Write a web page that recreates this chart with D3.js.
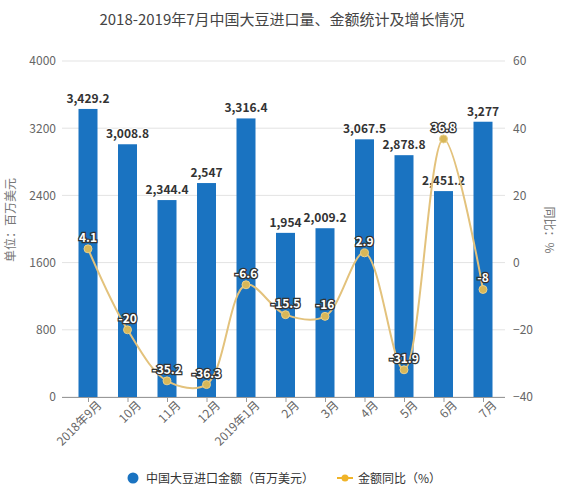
<!DOCTYPE html>
<html><head><meta charset="utf-8">
<script src="https://cdn.jsdelivr.net/npm/d3@7"></script>
<style>
body{margin:0;background:#fff;}
text{font-family:"Noto Sans CJK SC","Microsoft YaHei",sans-serif;}
</style></head>
<body><svg id="c" width="564" height="498"></svg>
<script>
const categories = ["2018年9月","10月","11月","12月","2019年1月","2月","3月","4月","5月","6月","7月"];
const amounts = [3429.2,3008.8,2344.4,2547,3316.4,1954,2009.2,3067.5,2878.8,2451.2,3277];
const yoy = [4.1,-20,-35.2,-36.3,-6.6,-15.5,-16,2.9,-31.9,36.8,-8];
const leftTicks = [0,800,1600,2400,3200,4000];
const rightTicks = [-40,-20,0,20,40,60];

(function(){
const svg = d3.select("#c");
const pL = 62, pR = 505, pT = 61, pB = 397;
const xc = d3.scalePoint().domain(categories).range([88, 483]);
const yL = d3.scaleLinear().domain([0,4000]).range([pB, pT]);
const yR = d3.scaleLinear().domain([-40,60]).range([pB, pT]);

svg.append("text").attr("x",282).attr("y",25).attr("text-anchor","middle")
  .attr("font-size",15).attr("fill","#444").text("2018-2019年7月中国大豆进口量、金额统计及增长情况");

// grid
svg.append("g").selectAll("line").data(leftTicks).join("line")
  .attr("x1",pL).attr("x2",pR).attr("y1",d=>yL(d)).attr("y2",d=>yL(d))
  .attr("stroke","#e3e3e3").attr("stroke-width",1);

// left axis
const la = svg.append("g").attr("transform",`translate(${pL},0)`)
  .call(d3.axisLeft(yL).tickValues(leftTicks).tickSize(0).tickPadding(6).tickFormat(d3.format("d")));
la.select(".domain").remove();
la.selectAll("text").attr("fill","#666").attr("font-size",12);

// right axis
const ra = svg.append("g").attr("transform",`translate(${pR},0)`)
  .call(d3.axisRight(yR).tickValues(rightTicks).tickSize(0).tickPadding(8));
ra.select(".domain").remove();
ra.selectAll("text").attr("fill","#666").attr("font-size",12);

svg.append("text").attr("transform","translate(15,220) rotate(-90)").attr("text-anchor","middle")
  .attr("font-size",12).attr("fill","#777").text("单位：百万美元");
svg.append("text").attr("transform","translate(545,230) rotate(90)").attr("text-anchor","middle")
  .attr("font-size",12).attr("fill","#777").text("同比：%");

// bars
svg.append("g").selectAll("rect").data(amounts).join("rect")
  .attr("x",(d,i)=>xc(categories[i])-9.5).attr("width",19)
  .attr("y",d=>yL(d)).attr("height",d=>pB-yL(d)).attr("fill","#1a73c1");

// x axis
const xa = svg.append("g").attr("transform",`translate(0,${pB})`)
  .call(d3.axisBottom(xc).tickSize(5).tickPadding(4));
xa.select(".domain").attr("d",`M${pL},0.5H${pR}`).attr("stroke","#999");
xa.selectAll(".tick line").attr("stroke","#999");
xa.selectAll("text").attr("fill","#666").attr("font-size",12)
  .attr("text-anchor","end").attr("dx","0.3em").attr("dy","0.6em")
  .attr("transform","rotate(-45)");

// bar labels
svg.append("g").selectAll("text").data(amounts).join("text")
  .attr("x",(d,i)=>xc(categories[i])).attr("y",d=>yL(d)-6)
  .attr("text-anchor","middle").attr("font-size",12).attr("font-weight","bold")
  .attr("fill","#333").attr("stroke","#fff").attr("stroke-width",2).attr("paint-order","stroke")
  .text(d=>d3.format(",")(d));

// line
const line = d3.line().x((d,i)=>xc(categories[i])).y(d=>yR(d)).curve(d3.curveCatmullRom.alpha(0.5));
svg.append("path").datum(yoy).attr("d",line).attr("fill","none")
  .attr("stroke","#e3c27c").attr("stroke-width",2);
svg.append("g").selectAll("circle").data(yoy).join("circle")
  .attr("cx",(d,i)=>xc(categories[i])).attr("cy",d=>yR(d)).attr("r",4)
  .attr("fill","#d8b758").attr("stroke","#e9d08a").attr("stroke-width",1);
svg.append("g").selectAll("text").data(yoy).join("text")
  .attr("x",(d,i)=>xc(categories[i])).attr("y",d=>yR(d)-7)
  .attr("text-anchor","middle").attr("font-size",12).attr("font-weight","bold")
  .attr("fill","#fff").attr("stroke","#333").attr("stroke-width",2.5).attr("paint-order","stroke")
  .text(d=>d);

// legend
const lg = svg.append("g");
lg.append("circle").attr("cx",133).attr("cy",478).attr("r",5.5).attr("fill","#1a73c1");
lg.append("text").attr("x",146).attr("y",482.5).attr("font-size",12).attr("fill","#333").text("中国大豆进口金额（百万美元）");
lg.append("line").attr("x1",337).attr("x2",353).attr("y1",478).attr("y2",478).attr("stroke","#f0b429").attr("stroke-width",2);
lg.append("circle").attr("cx",345).attr("cy",478).attr("r",3.5).attr("fill","#f0b429");
lg.append("text").attr("x",358).attr("y",482.5).attr("font-size",12).attr("fill","#333").text("金额同比（%）");
})();
</script></body></html>
